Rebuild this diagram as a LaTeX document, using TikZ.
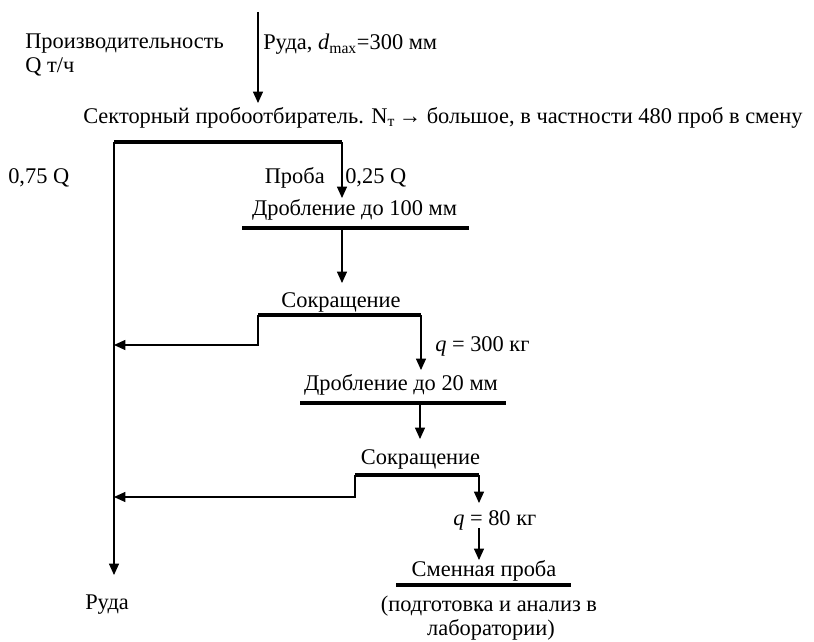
\documentclass[tikz,border=0pt]{standalone}
\usepackage{fontspec}
\setmainfont{Liberation Serif}
\usetikzlibrary{arrows.meta}
\tikzset{flow/.style={line width=0.8pt, -{Triangle[length=8.5pt, width=7.5pt]}}}
\tikzset{bar/.style={line width=3pt}}
\tikzset{lbl/.style={inner sep=0pt, anchor=base west}}
\tikzset{clbl/.style={inner sep=0pt, anchor=base}}

\begin{document}
\begin{tikzpicture}[x=0.75pt, y=-0.75pt, font=\fontsize{16.8pt}{20pt}\selectfont]%{{{
        \useasboundingbox (0,0) rectangle (814,642);

        \node[lbl] (Nprod) at (25, 49) {Производительность};
        \node[lbl] (Nq) at (25, 73) {Q т/ч};
        \node[lbl] (Nore) at (263, 50) {Руда, \textit{d}\textsubscript{max}=300 мм};
        \node[lbl] (Nsec) at (83, 123) {Секторный пробоотбиратель. N\textsubscript{т}\,→ большое, в частности 480 проб в смену};
        \node[lbl] (Nrest) at (8, 183) {0,75 Q};
        \node[inner sep=0pt, anchor=base east] (Nprobe) at (325, 183) {Проба};
        \node[lbl] (Npart) at (345, 183) {0,25 Q};
        \node[clbl] (Ncr1) at (354.5, 215) {Дробление до 100 мм};
        \node[clbl] (Nred1) at (341, 307) {Сокращение};
        \node[lbl] (Nq1) at (435, 351) {\textit{q}~=~300~кг};
        \node[clbl] (Ncr2) at (401, 390) {Дробление до 20 мм};
        \node[clbl] (Nred2) at (420.5, 464) {Сокращение};
        \node[lbl] (Nq2) at (453, 525) {\textit{q}~=~80~кг};
        \node[clbl] (Nshift) at (484, 576) {Сменная проба};
        \node[clbl] (Nlab1) at (489, 611) {(подготовка и анализ в};
        \node[clbl] (Nlab2) at (491, 635) {лаборатории)};
        \node[lbl] (Nout) at (85, 609) {Руда};

        \coordinate (Cin) at (258, 12);
        \coordinate (Cs) at (258, 103);
        \coordinate (B1l) at (114, 142);
        \coordinate (B1r) at (342, 142);
        \coordinate (Cout) at (114, 575);
        \coordinate (C1) at (342, 198);
        \coordinate (B2l) at (242, 228);
        \coordinate (B2m) at (342, 228);
        \coordinate (B2r) at (469, 228);
        \coordinate (C2) at (342, 283);
        \coordinate (B3l) at (258, 315);
        \coordinate (B3r) at (421, 315);
        \coordinate (R1) at (114, 345);
        \coordinate (C3) at (421, 370);
        \coordinate (B4l) at (300, 403);
        \coordinate (B4m) at (420, 403);
        \coordinate (B4r) at (506, 403);
        \coordinate (C4) at (420, 439);
        \coordinate (B5l) at (355, 475);
        \coordinate (B5r) at (479, 475);
        \coordinate (R2) at (114, 497);
        \coordinate (C5) at (479, 503);
        \coordinate (C6) at (479, 528);
        \coordinate (C7) at (479, 560);
        \coordinate (B6l) at (396, 585);
        \coordinate (B6r) at (571, 585);

        \draw [flow] (Cin) -- (Cs);
        \draw [bar] (B1l) -- (B1r);
        \draw [flow] (B1l) -- (Cout);
        \draw [flow] (B1r) -- (C1);
        \draw [bar] (B2l) -- (B2r);
        \draw [flow] (B2m) -- (C2);
        \draw [bar] (B3l) -- (B3r);
        \draw [flow] (B3l) |- (R1);
        \draw [flow] (B3r) -- (C3);
        \draw [bar] (B4l) -- (B4r);
        \draw [flow] (B4m) -- (C4);
        \draw [bar] (B5l) -- (B5r);
        \draw [flow] (B5l) |- (R2);
        \draw [flow] (B5r) -- (C5);
        \draw [flow] (C6) -- (C7);
        \draw [bar] (B6l) -- (B6r);

    \end{tikzpicture}
\end{document}
